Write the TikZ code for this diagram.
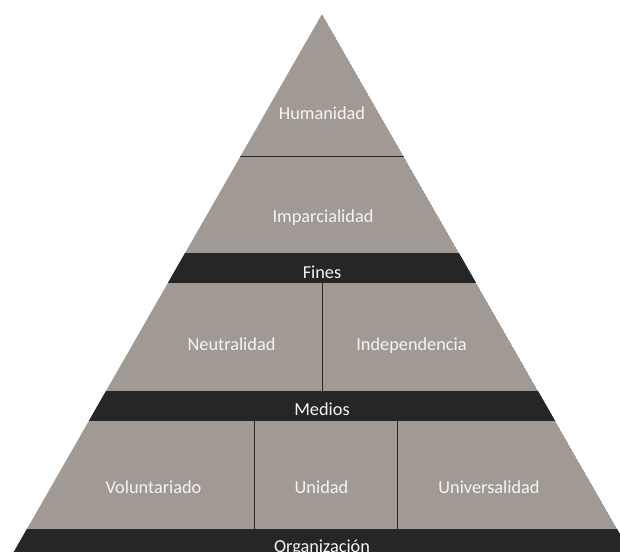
\documentclass[tikz,border=0pt]{standalone}
\usepackage{fontspec}
\setmainfont{Carlito}
\definecolor{pgray}{RGB}{161,154,148}
\definecolor{pdark}{RGB}{38,38,38}
\definecolor{ptext}{RGB}{245,245,245}
\begin{document}
\begin{tikzpicture}[x=1pt,y=-1pt,
  lbl/.style={anchor=base,text=ptext,font=\fontsize{18.3}{20}\selectfont,inner sep=0pt},
  divline/.style={draw=pdark,line width=1pt}]
\useasboundingbox (0,0) rectangle (620,551);
\coordinate (apex) at (322,14);
\coordinate (bl) at ({322-0.573*(570-14)},570);
\coordinate (br) at ({322+0.573*(570-14)},570);
\begin{scope}
\clip (apex) -- (br) -- (bl) -- cycle;
\fill[pgray] (apex) -- (br) -- (bl) -- cycle;
\fill[pdark] (0,253) rectangle (620,283);
\fill[pdark] (0,391) rectangle (620,421);
\fill[pdark] (0,529) rectangle (620,570);
\draw[divline] (0,156) -- (620,156);
\draw[divline] (322,283) -- (322,391);
\draw[divline] (254,421) -- (254,529);
\draw[divline] (397,421) -- (397,529);
\end{scope}
\node[lbl] (hum) at (322,119) {Humanidad};
\node[lbl] (imp) at (323,222) {Imparcialidad};
\node[lbl] (fin) at (322,278) {Fines};
\node[lbl] (neu) at (231.5,350) {Neutralidad};
\node[lbl] (ind) at (411.5,350) {Independencia};
\node[lbl] (med) at (322,415) {Medios};
\node[lbl] (vol) at (153.5,493) {Voluntariado};
\node[lbl] (uni) at (321.5,493) {Unidad};
\node[lbl] (unv) at (489,493) {Universalidad};
\node[lbl] (org) at (322,552) {Organización};
\end{tikzpicture}
\end{document}
